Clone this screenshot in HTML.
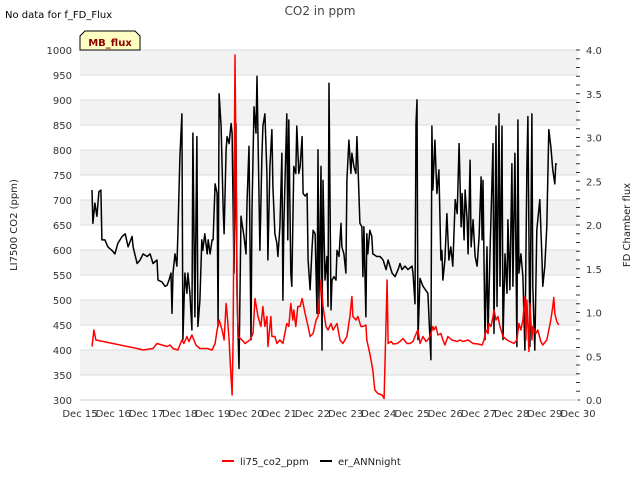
<!DOCTYPE html>
<html><head><meta charset="utf-8"><style>
body{margin:0;background:#fff;}
svg{display:block;font-family:"DejaVu Sans","Liberation Sans",sans-serif;}
</style></head><body>
<svg id="chart" width="640" height="480" viewBox="0 0 640 480" xmlns="http://www.w3.org/2000/svg">
<text x="5" y="18" font-size="10" fill="#000">No data for f_FD_Flux</text>
<text x="320" y="15" font-size="12" fill="#444" text-anchor="middle">CO2 in ppm</text>
<g id="bands"></g>
<g id="grid"></g>
<g id="series"></g>
<g id="axes"></g>
<g>
<path d="M80,50 L80,36 L85,31 L135,31 L140,36 L140,50 Z" fill="#ffffc4" stroke="#000" stroke-width="1"/>
<text x="110" y="46" font-size="10" font-weight="bold" fill="#8b0000" text-anchor="middle">MB_flux</text>
</g>
<text transform="translate(17,225) rotate(-90)" font-size="10" fill="#222" text-anchor="middle">LI7500 CO2 (ppm)</text>
<text transform="translate(630,225) rotate(-90)" font-size="10" fill="#222" text-anchor="middle">FD Chamber flux</text>
<g>
<g><line x1="222" y1="461" x2="234" y2="461" stroke="#ff0000" stroke-width="2"/><text x="240" y="465" font-size="10" fill="#222">li75_co2_ppm</text></g>
<g><line x1="320" y1="461" x2="332" y2="461" stroke="#000" stroke-width="2"/><text x="338" y="465" font-size="10" fill="#222">er_ANNnight</text></g>
</g>
</svg>
<script>
const xTickLabels=["Dec 15","Dec 16","Dec 17","Dec 18","Dec 19","Dec 20","Dec 21","Dec 22","Dec 23","Dec 24","Dec 25","Dec 26","Dec 27","Dec 28","Dec 29","Dec 30"];
const leftTicks=[300,350,400,450,500,550,600,650,700,750,800,850,900,950,1000];
const rightTicks=[0.0,0.5,1.0,1.5,2.0,2.5,3.0,3.5,4.0];
const redDays=[0.36,0.42,0.48,1.72,1.90,2.20,2.32,2.47,2.62,2.71,2.80,2.95,3.07,3.13,3.22,3.28,3.37,3.43,3.49,3.61,3.83,3.98,4.07,4.13,4.19,4.28,4.34,4.40,4.43,4.49,4.52,4.58,4.61,4.67,4.73,4.76,4.88,4.97,5.12,5.21,5.27,5.36,5.45,5.51,5.57,5.63,5.66,5.75,5.78,5.87,5.93,6.02,6.11,6.17,6.23,6.29,6.35,6.41,6.44,6.50,6.56,6.63,6.69,6.78,6.87,6.93,7.02,7.11,7.17,7.26,7.32,7.41,7.47,7.56,7.62,7.74,7.83,7.92,8.04,8.13,8.19,8.22,8.31,8.37,8.46,8.52,8.61,8.64,8.73,8.82,8.88,8.97,9.10,9.16,9.25,9.28,9.37,9.43,9.55,9.64,9.73,9.85,9.94,10.03,10.15,10.18,10.24,10.33,10.42,10.51,10.57,10.63,10.66,10.72,10.78,10.87,10.93,10.99,11.08,11.20,11.36,11.45,11.54,11.69,11.84,11.99,12.11,12.17,12.23,12.29,12.32,12.38,12.44,12.47,12.53,12.59,12.65,12.74,12.86,12.95,13.07,13.16,13.22,13.28,13.34,13.40,13.43,13.46,13.52,13.55,13.61,13.64,13.73,13.79,13.88,13.94,14.06,14.12,14.18,14.24,14.27,14.30,14.36,14.42];
const redValues=[407,440,420,403,400,403,413,410,407,410,403,400,420,413,427,417,430,420,410,403,403,400,413,440,460,440,420,493,473,420,380,310,420,990,553,427,420,413,420,433,503,467,447,487,447,467,407,467,427,427,413,420,413,433,453,447,493,460,480,447,487,487,503,473,447,427,433,460,467,540,487,447,440,453,440,453,420,413,427,467,507,467,460,467,447,447,450,420,393,360,320,313,310,303,540,413,417,412,413,417,423,413,413,417,437,440,413,427,417,423,433,447,440,447,430,433,420,410,427,420,417,420,417,420,413,412,410,420,440,433,453,447,467,480,460,467,447,427,420,417,413,420,453,440,460,507,420,500,397,493,420,447,433,440,417,410,420,440,460,487,505,473,457,450];
const blackDays=[0.36,0.39,0.45,0.51,0.57,0.63,0.66,0.75,0.84,0.96,1.05,1.14,1.27,1.36,1.45,1.57,1.60,1.72,1.81,1.90,2.02,2.11,2.20,2.32,2.35,2.47,2.56,2.62,2.68,2.74,2.77,2.80,2.86,2.92,2.95,3.01,3.07,3.10,3.16,3.22,3.25,3.31,3.37,3.40,3.46,3.52,3.55,3.61,3.67,3.70,3.76,3.83,3.86,3.92,3.98,4.01,4.07,4.13,4.16,4.19,4.25,4.31,4.34,4.40,4.43,4.49,4.55,4.58,4.64,4.70,4.73,4.79,4.85,4.88,4.94,5.00,5.03,5.09,5.15,5.18,5.24,5.30,5.33,5.42,5.48,5.51,5.57,5.63,5.66,5.72,5.78,5.81,5.87,5.93,5.96,6.02,6.08,6.11,6.14,6.23,6.26,6.29,6.35,6.38,6.44,6.50,6.53,6.59,6.63,6.69,6.72,6.78,6.84,6.87,6.93,6.99,7.02,7.08,7.14,7.17,7.20,7.26,7.29,7.32,7.38,7.44,7.47,7.50,7.56,7.59,7.65,7.71,7.74,7.80,7.86,7.89,7.95,8.01,8.04,8.10,8.16,8.19,8.25,8.31,8.34,8.37,8.43,8.49,8.52,8.55,8.61,8.64,8.67,8.73,8.79,8.82,8.94,9.04,9.13,9.22,9.28,9.40,9.49,9.58,9.64,9.70,9.79,9.88,10.00,10.03,10.09,10.12,10.15,10.18,10.24,10.33,10.48,10.57,10.60,10.63,10.69,10.75,10.81,10.87,10.90,10.93,10.99,11.05,11.11,11.17,11.23,11.30,11.36,11.42,11.48,11.51,11.57,11.60,11.66,11.69,11.75,11.78,11.84,11.90,11.96,12.02,12.08,12.11,12.14,12.20,12.26,12.29,12.35,12.44,12.47,12.53,12.56,12.62,12.65,12.71,12.74,12.80,12.86,12.89,12.95,13.01,13.04,13.10,13.16,13.19,13.22,13.28,13.34,13.40,13.46,13.49,13.55,13.61,13.64,13.70,13.76,13.79,13.85,13.91,13.94,14.00,14.06,14.12,14.18,14.24,14.30,14.33,14.36];
const blackValues=[2.40,2.02,2.25,2.10,2.38,2.40,1.83,1.83,1.75,1.71,1.67,1.79,1.87,1.90,1.75,1.87,1.75,1.56,1.60,1.67,1.64,1.67,1.56,1.60,1.37,1.35,1.30,1.31,1.37,1.45,0.99,1.45,1.67,1.53,1.90,2.78,3.27,0.69,1.45,1.22,1.45,1.22,0.80,3.05,0.95,3.01,0.84,1.14,1.83,1.71,1.90,1.67,1.83,1.67,1.83,1.83,2.47,2.36,0.84,3.50,3.13,2.21,1.90,2.86,3.01,2.93,3.16,3.05,1.45,3.16,1.22,0.36,2.10,2.02,1.87,1.67,2.25,2.90,0.69,2.17,3.35,3.05,3.70,1.71,2.78,3.13,3.27,2.59,1.60,2.67,3.09,2.44,1.90,1.79,1.64,1.98,2.82,1.14,1.98,3.27,1.83,3.20,1.45,1.30,2.67,2.59,3.13,2.59,2.67,3.01,2.36,2.33,2.36,1.60,1.26,1.75,1.94,1.90,0.99,2.86,0.99,2.67,0.57,2.51,1.37,1.64,1.07,3.62,1.03,1.37,1.41,1.37,1.71,1.64,2.02,1.75,1.67,1.45,2.51,2.97,2.59,2.82,2.67,2.59,3.01,2.70,2.02,1.98,1.41,1.98,0.95,1.90,1.67,1.94,1.87,1.67,1.64,1.64,1.60,1.49,1.60,1.45,1.41,1.49,1.56,1.49,1.53,1.49,1.53,1.45,1.10,3.16,3.43,0.69,1.39,1.30,1.22,0.46,3.13,2.40,2.97,2.36,2.63,1.60,1.71,1.37,1.60,2.13,1.60,1.75,1.53,2.29,2.13,2.93,1.98,2.36,1.83,2.40,2.06,1.67,2.74,1.75,2.06,1.64,1.53,1.87,2.55,1.83,2.51,0.69,1.75,0.76,1.67,2.93,0.76,3.13,1.07,3.27,1.30,3.13,0.69,1.67,1.22,2.06,1.26,2.70,1.30,2.82,0.61,3.20,1.45,1.67,1.41,0.57,2.67,3.24,0.61,3.27,1.30,0.57,1.94,2.06,2.29,1.67,1.30,1.53,1.98,3.09,2.90,2.63,2.47,2.70,2.69];

const NS="http://www.w3.org/2000/svg";
const PL=80,PR=578,PT=50,PB=400;
const xScale=d=>PL+d*(PR-PL)/15;
const yLeft=v=>PB-(v-300)*(PB-PT)/700;
const yRight=v=>PB-v*(PB-PT)/4;
function mk(tag,attrs,parent){const e=document.createElementNS(NS,tag);for(const k in attrs)e.setAttribute(k,attrs[k]);parent.appendChild(e);return e;}
const bands=document.getElementById('bands'),grid=document.getElementById('grid'),series=document.getElementById('series'),axes=document.getElementById('axes');
mk('rect',{x:PL,y:PT,width:PR-PL,height:PB-PT,fill:'#fff'},bands);
for(let v=950;v>=300;v-=100){
  const r=mk('rect',{x:PL,y:yLeft(v+50),width:PR-PL,height:yLeft(v)-yLeft(v+50),fill:'#f2f2f2'},bands);
  
  
}
leftTicks.forEach(v=>{
  const l=mk('line',{x1:PL,x2:PR,y1:yLeft(v),y2:yLeft(v),stroke:'#dcdcdc','stroke-width':1},grid);
  
  
  const t=mk('text',{x:PL-8,y:yLeft(v)+4,'font-size':10,fill:'#333','text-anchor':'end'},axes);
  t.textContent=v;
  
  
});
rightTicks.forEach(v=>{
  const t=mk('text',{x:PR+8,y:yRight(v)+4,'font-size':10,fill:'#333'},axes);
  t.textContent=v.toFixed(1);
  
  
});
for(let i=0;i<=40;i++){
  const y=yRight(i/10);
  const l=mk('line',{x1:PR-2,x2:PR+2,y1:y,y2:y,stroke:'#333','stroke-width':1},axes);
  
  
}
xTickLabels.forEach((s,i)=>{
  const t=mk('text',{x:xScale(i),y:417,'font-size':10,fill:'#333','text-anchor':'middle'},axes);
  t.textContent=s;
  
  
});
const b=mk('line',{x1:PL,x2:PR,y1:PB,y2:PB,stroke:'#ccc','stroke-width':1},axes);


function path(days,vals,ys){return days.map((d,i)=>(i?'L':'M')+xScale(d).toFixed(1)+','+ys(vals[i]).toFixed(1)).join(' ');}
const bl=mk('path',{d:path(blackDays,blackValues,yRight),fill:'none',stroke:'#000','stroke-width':1.5,'stroke-linejoin':'round'},series);


const rl=mk('path',{d:path(redDays,redValues,yLeft),fill:'none',stroke:'#ff0000','stroke-width':1.5,'stroke-linejoin':'round'},series);


</script>
</body></html>
